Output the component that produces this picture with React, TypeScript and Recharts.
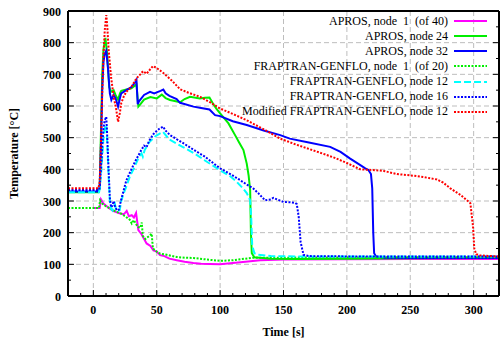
import React from "react";
import { CartesianGrid, Line, LineChart, XAxis, YAxis } from "recharts";

// time [s] / temperature [°C] samples per curve
const aprosN1T = [0, 5, 6, 8, 10, 13, 16, 20, 24, 26.3, 28, 30.3, 32, 33.7, 35.5, 38, 42, 45, 47.4, 50, 52.6, 56, 60, 65.8, 72, 78.9, 85, 92, 100, 110, 120, 131.6, 150, 200, 250, 320];
const aprosN1V = [278, 278, 305, 292, 285, 276, 268, 262, 258, 269, 252, 255, 248, 262, 208, 195, 166, 158, 144, 140, 129, 126, 118, 113, 108, 104, 102, 101, 100, 104, 108, 113, 115, 116, 117, 117];

const aprosN24T = [-20, 4, 5, 6, 7, 8, 9.5, 11, 12.5, 14, 16, 17.5, 19.5, 21, 22, 26, 30, 33, 34, 35.5, 37, 40, 45, 50, 54, 57, 60.5, 65, 68.4, 72, 76.3, 84, 88, 91.6, 94.3, 97, 100, 106.6, 111.8, 115, 118.4, 121, 122.5, 123.7, 124.3, 125, 127, 140, 160, 200, 250, 320];
const aprosN24V = [328, 328, 340, 520, 700, 780, 815, 760, 660, 645, 650, 635, 620, 640, 648, 652, 656, 665, 668, 598, 605, 620, 628, 624, 636, 625, 619, 615, 612, 622, 629, 624, 626, 627, 608, 592, 577, 545, 508, 485, 461, 418, 380, 334, 200, 135, 122, 118, 117, 118, 119, 120];

const aprosN32T = [-20, 4, 5, 6, 7, 8, 9, 10.2, 11.5, 13, 14.2, 16, 17.5, 19.5, 21, 22, 26, 30, 33, 34, 35, 36, 40, 44.7, 48, 50, 53, 55.2, 57, 60, 65.7, 68.4, 79, 85, 91.6, 96, 100, 110, 121, 135, 147.4, 155, 170, 186.8, 195, 202.6, 210, 214.5, 217, 219, 220, 220.8, 221.5, 223, 230, 250, 320];
const aprosN32V = [330, 330, 340, 480, 650, 740, 765, 775, 720, 640, 619, 635, 625, 598, 625, 640, 650, 660, 675, 682, 606, 615, 635, 645, 640, 643, 648, 652, 640, 632, 622, 610, 598, 594, 589, 571, 568, 552, 540, 522, 508, 497, 485, 471, 455, 434, 415, 403, 398, 385, 340, 200, 135, 125, 121, 120, 120];

const frapN1T = [-20, 4.5, 5.3, 7, 10, 14.2, 18, 21, 25, 28.7, 30.3, 32, 33.5, 35.3, 37, 38.2, 39, 41, 44.7, 46, 47, 50, 52.6, 58, 65.8, 72, 79, 90, 100, 110, 126.3, 150, 200, 250, 320];
const frapN1V = [278, 278, 302, 292, 283, 274, 266, 262, 252, 241, 229, 240, 228, 218, 215, 232, 190, 180, 192, 197, 150, 140, 134, 130, 123, 121, 120, 115, 111, 113, 121, 121, 122, 122, 122];

const frapN12T = [-20, 4.5, 5, 6, 7, 8, 9, 10.2, 11, 12, 13, 14, 15, 16, 17, 18, 19, 20.8, 22, 24, 26, 29, 32.6, 36, 38, 39, 40.5, 44, 48.4, 52, 55, 60, 70, 79, 88, 97.4, 100, 108, 113.2, 118, 121, 123.7, 124.5, 125.3, 127, 130, 140, 160, 200, 250, 320];
const frapN12V = [328, 328, 340, 380, 440, 500, 530, 540, 480, 380, 300, 275, 270, 280, 290, 272, 268, 271, 300, 325, 345, 380, 408, 440, 450, 440, 461, 485, 503, 512, 518, 494, 472, 452, 428, 404, 397, 378, 360, 340, 325, 302, 250, 160, 135, 130, 126, 125, 125, 125, 125];

const frapN16T = [-20, 4.5, 5, 6, 7, 8, 9, 10.2, 11, 12, 13, 14, 15, 16, 17, 18, 19, 20, 22, 26, 30, 33, 37, 40, 42, 44, 48, 52, 55, 57, 60.5, 70, 79, 88, 100, 108, 115, 121, 126.3, 130, 135.5, 140, 142, 145, 150, 155, 159.2, 160.5, 162, 163.5, 165.8, 170, 200, 250, 320];
const frapN16V = [335, 335, 345, 400, 470, 530, 555, 566, 500, 400, 310, 280, 285, 300, 285, 275, 270, 272, 305, 365, 400, 425, 455, 475, 470, 490, 515, 528, 535, 522, 508, 485, 462, 440, 403, 385, 368, 352, 339, 325, 302, 305, 310, 305, 297, 296, 294, 290, 250, 170, 130, 126, 125, 125, 125];

const modN12T = [-20, 4, 5, 6, 7, 8, 9, 10.2, 11, 12, 14, 16, 18, 19.5, 21, 22, 24, 26, 30, 34, 37, 39.2, 42, 44, 47, 50, 55, 62, 68.4, 75, 84.2, 92, 100, 110, 121, 135, 147.4, 160, 173.4, 190, 200, 210.5, 220, 229, 239.5, 250, 260, 271, 276, 281.6, 290, 297.4, 299.5, 300.5, 302, 305, 320];
const modN12V = [340, 340, 360, 480, 640, 760, 840, 887, 850, 780, 690, 630, 590, 550, 580, 609, 630, 645, 660, 687, 700, 710, 702, 712, 726, 720, 705, 680, 653, 642, 629, 612, 592, 575, 555, 525, 497, 478, 460, 437, 420, 400, 398, 395, 385, 381, 376, 368, 358, 340, 318, 293, 220, 150, 132, 128, 125];

const xMajor = [0, 50, 100, 150, 200, 250, 300];
const xMinor = [-20, -10, 0, 10, 20, 30, 40, 50, 60, 70, 80, 90, 100, 110, 120, 130, 140, 150, 160, 170, 180, 190, 200, 210, 220, 230, 240, 250, 260, 270, 280, 290, 300, 310, 320];
const yMajor = [100, 200, 300, 400, 500, 600, 700, 800];
const yMinor = [0, 50, 100, 150, 200, 250, 300, 350, 400, 450, 500, 550, 600, 650, 700, 750, 800, 850, 900];

const zip = (t: number[], v: number[]) => t.map((x, i) => ({ t: x, v: v[i] }));

const series = [
  { name: "APROS, node  1  (of 40)", color: "#ff00ff", dash: undefined, data: zip(aprosN1T, aprosN1V) },
  { name: "APROS, node 24", color: "#00ee00", dash: undefined, data: zip(aprosN24T, aprosN24V) },
  { name: "APROS, node 32", color: "#0000ff", dash: undefined, data: zip(aprosN32T, aprosN32V) },
  { name: "FRAPTRAN-GENFLO, node  1  (of 20)", color: "#00ee00", dash: "2 1.5", data: zip(frapN1T, frapN1V) },
  { name: "FRAPTRAN-GENFLO, node 12", color: "#00ffff", dash: "7 3", data: zip(frapN12T, frapN12V) },
  { name: "FRAPTRAN-GENFLO, node 16", color: "#0000ff", dash: "2 1.5", data: zip(frapN16T, frapN16V) },
  { name: "Modified FRAPTRAN-GENFLO, node 12", color: "#ff0000", dash: "2 1.5", data: zip(modN12T, modN12V) },
];

const serif = '"Liberation Serif", "Times New Roman", serif';
const tickFont = { fontFamily: serif, fontSize: 12, fontWeight: 700 };
const frame = { stroke: "#000", strokeWidth: 2 };

// inward tick marks, labels only on the major values
const BottomTick = ({ x, y, payload }: any) => {
  const major = payload.value % 50 === 0;
  return (
    <g>
      <line x1={x} x2={x} y1={y} y2={y - (major ? 6 : 3)} stroke="#000" />
      {major && (
        <text x={x} y={y + 18} textAnchor="middle" fill="#000" style={tickFont}>
          {payload.value}
        </text>
      )}
    </g>
  );
};

const TopTick = ({ x, y, payload }: any) => {
  const major = payload.value % 50 === 0;
  return <line x1={x} x2={x} y1={y} y2={y + (major ? 6 : 3)} stroke="#000" />;
};

const LeftTick = ({ x, y, payload }: any) => {
  const major = payload.value % 100 === 0;
  return (
    <g>
      <line x1={x} x2={x + (major ? 6 : 3)} y1={y} y2={y} stroke="#000" />
      {major && (
        <text x={x - 7} y={y + 4.5} textAnchor="end" fill="#000" style={tickFont}>
          {payload.value}
        </text>
      )}
    </g>
  );
};

const RightTick = ({ x, y, payload }: any) => {
  const major = payload.value % 100 === 0;
  return <line x1={x} x2={x - (major ? 6 : 3)} y1={y} y2={y} stroke="#000" />;
};

const YTitle = ({ viewBox }: any) => {
  const cx = viewBox.x + 14;
  const cy = viewBox.y + viewBox.height / 2;
  return (
    <text x={cx} y={cy} textAnchor="middle" dominantBaseline="central" transform={`rotate(-90 ${cx} ${cy})`} fill="#000" style={tickFont}>
      Temperature [°C]
    </text>
  );
};

const XTitle = ({ viewBox }: any) => (
  <text x={viewBox.x + viewBox.width / 2} y={viewBox.y + 40} textAnchor="middle" fill="#000" style={tickFont}>
    Time [s]
  </text>
);

const LegendBox = () => (
  <div style={{ position: "absolute", left: 150, top: 13.5, width: 337, fontFamily: serif, fontSize: 12, color: "#000" }}>
    {series.map((s) => (
      <div key={s.name} style={{ height: 15.15, display: "flex", justifyContent: "flex-end", alignItems: "center" }}>
        <span style={{ whiteSpace: "pre", lineHeight: "15px" }}>{s.name}</span>
        <svg width={39} height={6} style={{ display: "block" }}>
          <line x1={6} x2={39} y1={3} y2={3} stroke={s.color} strokeWidth={2} strokeDasharray={s.dash} />
        </svg>
      </div>
    ))}
  </div>
);

export default function App() {
  return (
    <div style={{ position: "absolute", left: 0, top: 0, width: 503, height: 340, background: "#fff" }}>
      <LineChart width={503} height={340} margin={{ top: 10, right: 3, left: 0, bottom: 0 }}>
        <CartesianGrid
          xAxisId="b"
          yAxisId="l"
          stroke="#bdbdbd"
          strokeDasharray="5 3"
          verticalValues={xMajor}
          horizontalValues={yMajor}
        />
        <XAxis
          xAxisId="b"
          dataKey="t"
          type="number"
          domain={[-20, 320]}
          allowDataOverflow
          ticks={xMinor}
          interval={0}
          height={44}
          tickSize={0}
          tickMargin={0}
          tickLine={false}
          tick={<BottomTick />}
          axisLine={frame}
          label={<XTitle />}
        />
        <XAxis
          xAxisId="t"
          orientation="top"
          type="number"
          domain={[-20, 320]}
          allowDataOverflow
          ticks={xMinor}
          interval={0}
          height={1}
          tickSize={0}
          tickMargin={0}
          tickLine={false}
          tick={<TopTick />}
          axisLine={frame}
        />
        <YAxis
          yAxisId="l"
          type="number"
          domain={[0, 900]}
          allowDataOverflow
          ticks={yMinor}
          interval={0}
          width={68}
          tickSize={0}
          tickMargin={0}
          tickLine={false}
          tick={<LeftTick />}
          axisLine={frame}
          label={<YTitle />}
        />
        <YAxis
          yAxisId="r"
          orientation="right"
          type="number"
          domain={[0, 900]}
          allowDataOverflow
          ticks={yMinor}
          interval={0}
          width={1}
          tickSize={0}
          tickMargin={0}
          tickLine={false}
          tick={<RightTick />}
          axisLine={frame}
        />
        {series.map((s) => (
          <Line
            key={s.name}
            xAxisId="b"
            yAxisId="l"
            data={s.data}
            dataKey="v"
            type="linear"
            stroke={s.color}
            strokeWidth={2}
            strokeDasharray={s.dash}
            dot={false}
            isAnimationActive={false}
          />
        ))}
      </LineChart>
      <LegendBox />
    </div>
  );
}
